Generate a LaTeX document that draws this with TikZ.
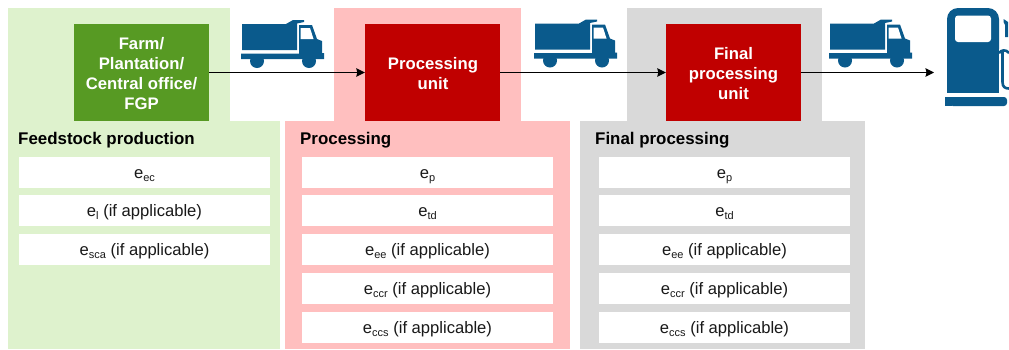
\documentclass[tikz,border=0pt]{standalone}
\usepackage{fontspec}
\setmainfont{Liberation Sans}
\usetikzlibrary{arrows.meta}
\definecolor{pgreen}{HTML}{DEF2CD}
\definecolor{ppink}{HTML}{FFBFBF}
\definecolor{pgray}{HTML}{D9D9D9}
\definecolor{bgreen}{HTML}{579A23}
\definecolor{bred}{HTML}{C00000}
\definecolor{iconblue}{HTML}{0A5A8C}
\tikzset{
  panel/.style={draw=none,fill=#1},
  unitbox/.style={draw=none,fill=#1,minimum width=135pt,minimum height=97pt,inner sep=0pt,text=white,align=center,font=\fontsize{16.7}{20}\selectfont\bfseries},
  unittext/.style={text=white,align=center,font=\fontsize{16.7}{20}\selectfont\bfseries,inner sep=0pt},
  rowbox/.style={draw=none,fill=white,minimum width=251pt,minimum height=31pt,inner sep=0pt,text=black!90,text height=14pt,text depth=2pt,font=\fontsize{16.6}{18}\selectfont},
  headtext/.style={anchor=west,inner sep=0pt,font=\fontsize{16.9}{18}\selectfont\bfseries,text=black},
  flow/.style={draw=black,line width=1.2pt,-{Stealth[length=8.5pt,width=8.5pt,inset=1pt]}},
  truck/.pic={
    \fill[iconblue] (16,41) circle[radius=7pt];
    \fill[iconblue] (68,41) circle[radius=7pt];
    \fill[iconblue] (1,4) -- (45,4) -- (52,0) -- (63,0) -- (63,2) -- (56,3.5) -- (56,30) -- (1,30) -- cycle;
    \fill[iconblue] (58,5) -- (71,5) -- (76,19) -- (81,21) -- (81,33) -- (83,33) -- (83,39) -- (0,39) -- (0,33.5) -- (58,33.5) -- cycle;
    \fill[white] (59.5,8) -- (69,8) -- (72.5,19) -- (59.5,19) -- cycle;
  },
}
\newcommand{\es}[1]{e\raisebox{-3pt}{\fontsize{11}{12}\selectfont #1}}
\begin{document}
\begin{tikzpicture}[x=1pt,y=-1pt]
\useasboundingbox (0,0) rectangle (1009,349);
% panels
\fill[panel=pgreen] (8,8) rectangle (230,122);
\fill[panel=pgreen] (8,121) rectangle (280,349);
\fill[panel=ppink] (334,8) rectangle (521,122);
\fill[panel=ppink] (285,121) rectangle (570,349);
\fill[panel=pgray] (627,8) rectangle (822,122);
\fill[panel=pgray] (580,121) rectangle (865,349);
% trucks
\pic at (241,20) {truck};
\pic at (534,19.5) {truck};
\pic at (829,19.5) {truck};
% pump
\fill[iconblue,rounded corners=11pt] (947,60) -- (947,8) -- (999,8) -- (999,60) -- cycle;
\fill[iconblue] (947,40) rectangle (999,93);
\fill[white,rounded corners=3pt] (955,15.5) rectangle (991,42);
\fill[iconblue,rounded corners=3pt] (945,97) -- (1007,97) -- (1007,106) -- (950,106) -- (950,97) -- cycle;
\fill[iconblue] (945,97) rectangle (952,106);
\draw[iconblue,line width=2.6pt] (999,53) .. controls (1001,50) and (1006,49) .. (1009,53);
\draw[iconblue,line width=2.6pt] (1002.5,52) -- (1002.5,82) .. controls (1002.5,87) and (1005,88.5) .. (1009,88.5);
\fill[iconblue] (1003.5,19) -- (1008,22) -- (1008,37) -- (1005,37) -- (1005,25) -- (1003.5,22) -- cycle;
% units
\node[unitbox=bgreen] (farm) at (141.5,72.5) {};
\node[unittext] (farmtext) at (141.5,74) {Farm/\\Plantation/\\Central office/\\FGP};
\node[unitbox=bred] (proc) at (432.5,72.5) {};
\node[unittext] (proctext) at (433,74) {Processing\\unit};
\node[unitbox=bred] (fin) at (733.5,72.5) {};
\node[unittext] (fintext) at (733.5,74) {Final\\processing\\unit};
\coordinate (pumpin) at (934,72.5);
% flows
\draw[flow] (farm.east) -- (proc.west);
\draw[flow] (proc.east) -- (fin.west);
\draw[flow] (fin.east) -- (pumpin);
% heads
\node[headtext] (h1) at (18,140) {Feedstock production};
\node[headtext] (h2) at (300,140) {Processing};
\node[headtext] (h3) at (595,140) {Final processing};
% rows
\node[rowbox] (a1) at (144.5,172.5) {\es{ec}};
\node[rowbox] (a2) at (144.5,210.5) {\es{l} (if applicable)};
\node[rowbox] (a3) at (144.5,249.5) {\es{sca} (if applicable)};
\node[rowbox] (b1) at (427.5,172.5) {\es{p}};
\node[rowbox] (b2) at (427.5,210.5) {\es{td}};
\node[rowbox] (b3) at (427.5,249.5) {\es{ee} (if applicable)};
\node[rowbox] (b4) at (427.5,288.5) {\es{ccr} (if applicable)};
\node[rowbox] (b5) at (427.5,327.5) {\es{ccs} (if applicable)};
\node[rowbox] (c1) at (724.5,172.5) {\es{p}};
\node[rowbox] (c2) at (724.5,210.5) {\es{td}};
\node[rowbox] (c3) at (724.5,249.5) {\es{ee} (if applicable)};
\node[rowbox] (c4) at (724.5,288.5) {\es{ccr} (if applicable)};
\node[rowbox] (c5) at (724.5,327.5) {\es{ccs} (if applicable)};
\end{tikzpicture}
\end{document}
